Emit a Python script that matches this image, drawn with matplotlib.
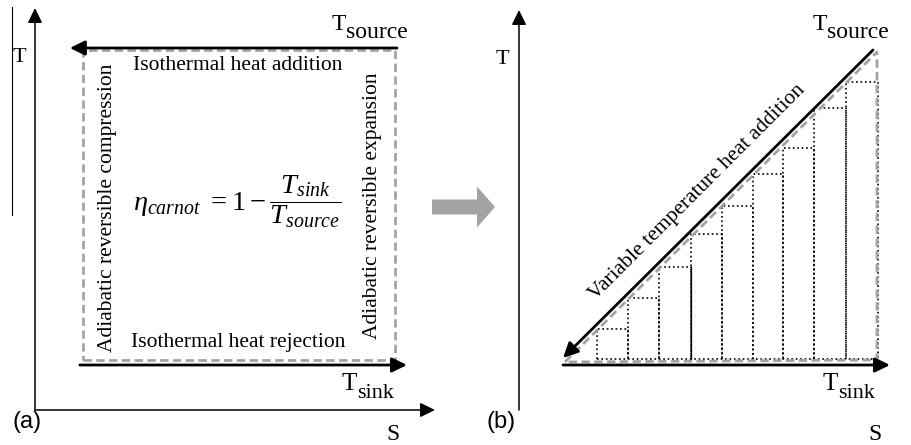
import numpy as np
import matplotlib.pyplot as plt
from matplotlib.patches import FancyArrow

plt.rcParams['font.family'] = 'Liberation Serif'
plt.rcParams['mathtext.fontset'] = 'custom'
plt.rcParams['mathtext.rm'] = 'Liberation Serif'
plt.rcParams['mathtext.it'] = 'Liberation Serif:italic'

# (a) carnot cycle, diagram units (S right, T up)
S_cycle = [1.2, 9.0]
T_sink_a = 1.25
T_source_a = 9.0

# (b) variable temperature heat addition
tri_S = [1.15, 8.95, 8.95, 1.15]
tri_T = [1.2, 8.95, 1.25, 1.2]
step_edges = [1.95, 2.725, 3.5, 4.3, 5.075, 5.85, 6.6, 7.375, 8.175, 8.975]
step_tops = [2.025, 2.8, 3.575, 4.4, 5.1, 5.9, 6.55, 7.55, 8.2]
step_base = 1.275
T_sink_b = 1.125

GRAY = '#a3a3a3'
FS = 15.5


def arrow(ax, start, end, lw=1.1):
    """Black line with a filled head at end"""
    ax.annotate('', xy=end, xytext=start,
                arrowprops=dict(arrowstyle='-|>,head_length=0.45,head_width=0.22',
                                mutation_scale=20, color='k', lw=lw,
                                shrinkA=0, shrinkB=0))


def t_label(ax, x, y, sub, size=17, sub_size=17):
    """T with a big subscript, x is where T ends"""
    ax.text(x, y, 'T', ha='right', va='baseline', fontsize=size)
    ax.text(x, y - 0.2, sub, ha='left', va='baseline', fontsize=sub_size)


def panel_axes(fig, left, width, x0):
    ax = fig.add_axes([left / 912, 0, width / 912, 1])
    # 40 px per unit, origin of S-T axes at (x0, 410) px
    ax.set_xlim(-(x0 - left) / 40, (left + width - x0) / 40)
    ax.set_ylim(-35 / 40, 410 / 40)
    ax.set_axis_off()
    return ax


fig = plt.figure(figsize=(9.12, 4.45), dpi=100)
ax_a = panel_axes(fig, 0, 450, 35)
ax_b = panel_axes(fig, 450, 462, 519)

# ---- panel (a)
ax_a.plot([-0.575, -0.575], [4.875, 10.075], color='k', lw=0.8)
arrow(ax_a, (0, 0), (0, 10.05))
arrow(ax_a, (0, 0), (10.0, 0))

ax_a.plot([S_cycle[0], S_cycle[1], S_cycle[1], S_cycle[0], S_cycle[0]],
          [T_sink_a, T_sink_a, T_source_a, T_source_a, T_sink_a],
          color=GRAY, lw=2, dashes=(3, 1.6))
arrow(ax_a, (S_cycle[1] + 0.05, T_source_a + 0.05), (S_cycle[0] - 0.33, T_source_a + 0.05), lw=2)
arrow(ax_a, (S_cycle[0] - 0.08, T_sink_a - 0.125), (S_cycle[1] + 0.3, T_sink_a - 0.125), lw=2)

ax_a.text(-0.4, 8.8, 'T', ha='center', va='center', fontsize=16)
ax_a.text(8.95, -0.6, 'S', ha='center', va='center', fontsize=17)
ax_a.text(-0.2, -0.3, '(a)', ha='center', va='center', fontsize=17, family='Liberation Sans')
t_label(ax_a, 7.775, 9.5, 'source')
t_label(ax_a, 8.05, 0.5, 'sink', size=18, sub_size=16)

ax_a.text(5.075, 8.625, 'Isothermal heat addition', ha='center', va='center', fontsize=FS)
ax_a.text(5.075, 1.675, 'Isothermal heat rejection', ha='center', va='center', fontsize=FS)
ax_a.text(1.825, 5.05, 'Adiabatic reversible compression', ha='center', va='center',
          rotation=90, fontsize=FS)
ax_a.text(8.425, 5.1, 'Adiabatic reversible expansion', ha='center', va='center',
          rotation=90, fontsize=FS)
ax_a.text(5.06, 5.22, r'$\eta_{carnot}\ = 1 - \dfrac{T_{sink}}{T_{source}}$',
          ha='center', va='center', fontsize=20.5)

# gray arrow between the panels
ax_a.add_patch(FancyArrow(9.925, 5.075, 1.575, 0, width=0.375, head_width=1.025,
                          head_length=0.45, length_includes_head=True,
                          color=GRAY, lw=0, clip_on=False))

# ---- panel (b)
arrow(ax_b, (0, 0), (0, 10.0))
arrow(ax_b, (0, 0), (9.9, 0))

# staircase of small carnot cycles
for i in range(len(step_tops)):
    x0, x1 = step_edges[i], step_edges[i + 1]
    ax_b.plot([x0, x0, x1, x1], [step_base, step_tops[i], step_tops[i], step_base],
              color='k', lw=1.2, ls=':')
ax_b.plot([step_edges[0], step_edges[-1]], [step_base, step_base], color='k', lw=1.2, ls=':')
ax_b.plot([step_edges[3], step_edges[3]], [step_base, step_tops[2]], color='k', lw=0.9)

ax_b.plot(tri_S, tri_T, color=GRAY, lw=2, dashes=(3, 1.6))
arrow(ax_b, (8.85, 9.0), (1.1, 1.3), lw=2)
arrow(ax_b, (1.1, T_sink_b), (9.275, T_sink_b), lw=2)

ax_b.text(-0.425, 8.75, 'T', ha='center', va='center', fontsize=16)
ax_b.text(8.9, -0.6, 'S', ha='center', va='center', fontsize=17)
ax_b.text(-0.45, -0.3, '(b)', ha='center', va='center', fontsize=17, family='Liberation Sans')
t_label(ax_b, 7.7, 9.5, 'source')
t_label(ax_b, 7.975, 0.5, 'sink', size=18, sub_size=16)
ax_b.text(4.45, 5.45, 'Variable temperature heat addition', ha='center', va='center',
          rotation=45, rotation_mode='anchor', fontsize=FS)

fig.savefig('out.png', dpi=100)
